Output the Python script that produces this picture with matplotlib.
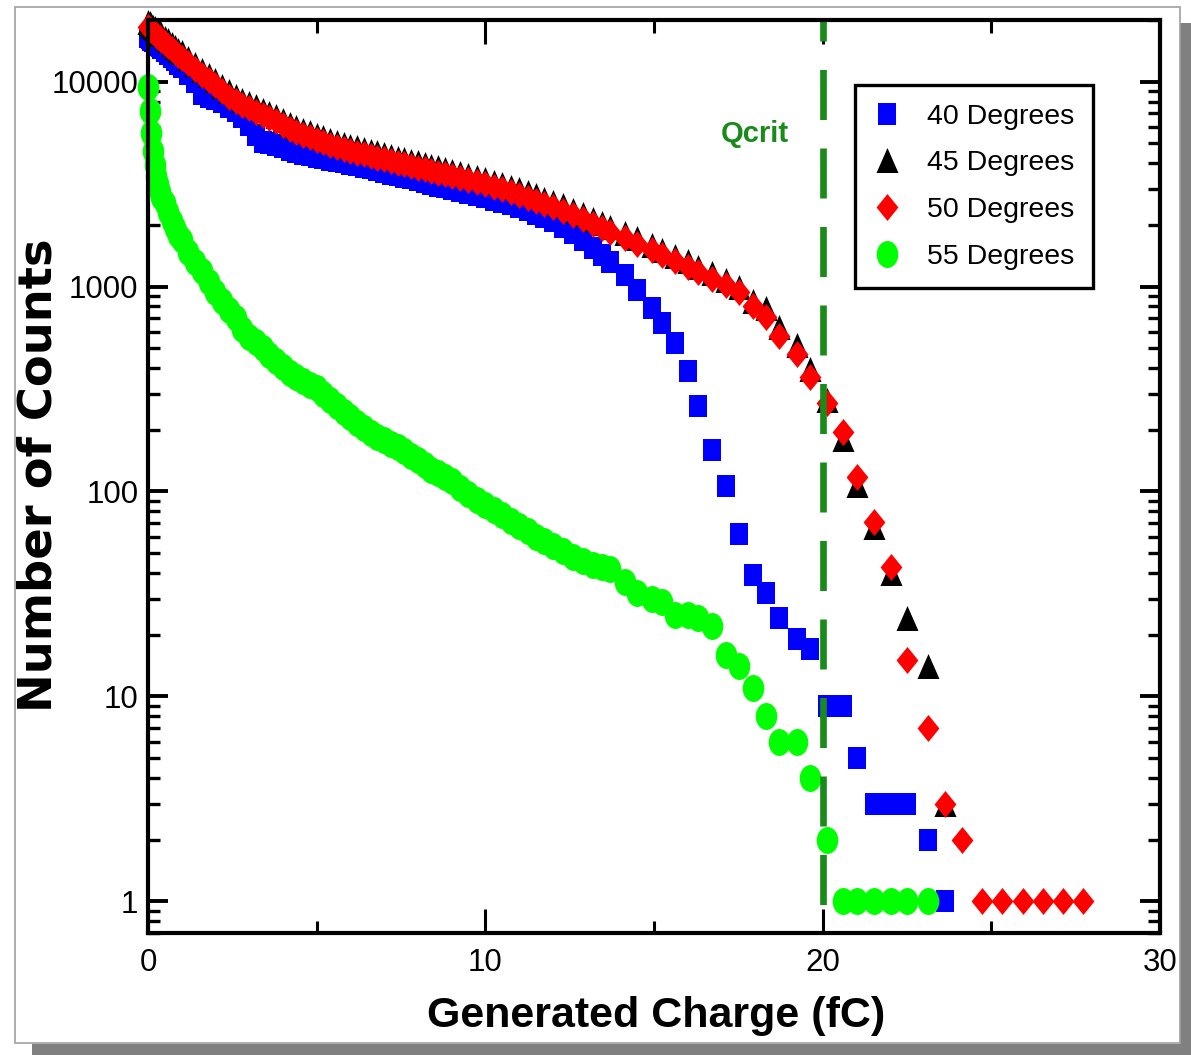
import numpy as np
import matplotlib
matplotlib.use("Agg")
import matplotlib.pyplot as plt
from matplotlib.path import Path
from matplotlib.transforms import Affine2D
from matplotlib.patches import Rectangle
from matplotlib.ticker import FixedLocator, MultipleLocator, LogLocator, NullFormatter, FuncFormatter

# ---- data (generated charge in fC, counts per bin) ----
charge = [0.0, 0.05, 0.1, 0.15, 0.2, 0.25, 0.3, 0.35, 0.4, 0.5,
          0.6, 0.7, 0.8, 0.9, 1.0, 1.2,
          1.4, 1.6, 1.8, 2.0, 2.2, 2.4, 2.6, 2.8, 3.0, 3.2,
          3.4, 3.6, 3.8, 4.0, 4.2, 4.4, 4.6, 4.8, 5.0, 5.2,
          5.4, 5.6, 5.8, 6.0, 6.2, 6.4, 6.6, 6.8, 7.0, 7.2,
          7.4, 7.6, 7.8, 8.0, 8.2, 8.4, 8.6, 8.8, 9.0, 9.25,
          9.5, 9.75, 10.0, 10.25, 10.5, 10.75, 11.0, 11.25, 11.5, 11.75,
          12.0, 12.3, 12.6, 12.9, 13.2, 13.45, 13.70, 14.14, 14.50, 14.94,
          15.24, 15.62, 16.01, 16.30, 16.72, 17.14, 17.52, 17.94, 18.32, 18.71,
          19.24, 19.63, 20.13, 20.60, 21.02, 21.52, 22.03, 22.50, 23.12, 23.63,
          24.13, 24.73, 25.32, 25.94, 26.53, 27.13, 27.72]

nan = np.nan

deg40 = [16500, 16250, 16000, 15800, 15600, 15350, 15100, 14850, 14600, 14100,
         13600, 13150, 12700, 12250, 11800, 10900,
         10000, 8700, 8400, 8200, 7950, 7500, 7200, 6700, 6150, 5500,
         5100, 5000, 4920, 4780, 4650, 4550, 4450, 4370, 4300, 4240,
         4170, 4100, 4040, 3980, 3920, 3850, 3790, 3720, 3640, 3560,
         3500, 3440, 3380, 3300, 3240, 3170, 3110, 3060, 3010, 2940,
         2870, 2800, 2730, 2660, 2590, 2520, 2440, 2360, 2270, 2180,
         2080, 1960, 1820, 1680, 1540, 1430, 1320, 1140, 960, 790,
         667, 530, 386, 260, 159, 106, 62, 39, 32, 24,
         19, 17, 9, 9, 5, 3, 3, 3, 2, 1,
         nan, nan, nan, nan, nan, nan, nan]

deg45 = [19600, 19250, 18900, 18550, 18200, 17900, 17600, 17300, 17000, 16400,
         15900, 15350, 14800, 14350, 13900, 13000,
         12200, 11400, 10800, 10200, 9540, 8960, 8530, 8160, 7840, 7580,
         7310, 7050, 6780, 6520, 6250, 6040, 5830, 5670, 5510, 5350,
         5220, 5090, 4980, 4880, 4780, 4690, 4600, 4520, 4430, 4350,
         4260, 4190, 4110, 4040, 3960, 3890, 3820, 3740, 3680, 3590,
         3510, 3420, 3340, 3250, 3170, 3070, 2980, 2880, 2790, 2690,
         2600, 2490, 2370, 2260, 2140, 2050, 1960, 1820, 1720, 1590,
         1510, 1410, 1330, 1250, 1160, 1080, 1000, 850, 785, 635,
         518, 396, 280, 180, 107, 67, 40, 24, 14, 3,
         nan, nan, nan, nan, nan, nan, nan]

deg50 = [18500, 18150, 17800, 17500, 17200, 16900, 16600, 16300, 16000, 15500,
         15000, 14500, 14000, 13550, 13100, 12300,
         11500, 10800, 10200, 9600, 9000, 8450, 8050, 7700, 7400, 7150,
         6900, 6650, 6400, 6150, 5900, 5700, 5500, 5350, 5200, 5050,
         4920, 4800, 4700, 4600, 4510, 4420, 4340, 4260, 4180, 4100,
         4020, 3950, 3880, 3810, 3740, 3670, 3600, 3530, 3470, 3390,
         3310, 3230, 3150, 3070, 2990, 2900, 2810, 2720, 2630, 2540,
         2450, 2350, 2240, 2130, 2020, 1930, 1850, 1720, 1620, 1500,
         1420, 1330, 1250, 1180, 1090, 1020, 940, 800, 714, 577,
         471, 360, 269, 196, 118, 71, 43, 15, 7, 3,
         2, 1, 1, 1, 1, 1, 1]

deg55 = [9400, 7200, 5600, 4600, 3900, 3450, 3150, 2900, 2750, 2550,
         2300, 2100, 1930, 1790, 1680, 1480,
         1320, 1190, 1050, 940, 850, 770, 700, 620, 570, 535,
         500, 465, 435, 405, 378, 360, 345, 332, 320, 300,
         280, 262, 245, 230, 216, 204, 193, 185, 178, 171,
         165, 157, 149, 142, 135, 128, 123, 117, 112, 104,
         97, 91, 86, 81, 77, 72, 68, 64, 60, 57,
         54, 51, 48, 46, 44, 43, 42, 36, 32, 30,
         29, 25, 25, 24, 22, 16, 14, 11, 8, 6,
         6, 4, 2, 1, 1, 1, 1, 1, 1, nan,
         nan, nan, nan, nan, nan, nan, nan]

labels = ["40 Degrees", "45 Degrees", "50 Degrees", "55 Degrees"]
qcrit = 20.0

# ---- figure ----
plt.rcParams['font.family'] = ['Liberation Sans', 'DejaVu Sans']

W, H = 1191, 1055
fig = plt.figure(figsize=(W / 100, H / 100), dpi=100)
fig.patch.set_facecolor('white')

# frame and drop shadow around the picture
fig.patches.append(Rectangle((1180 / W, 0), 11 / W, (H - 23) / H, transform=fig.transFigure,
                             facecolor='#808080', edgecolor='none', zorder=0))
fig.patches.append(Rectangle((32 / W, 0), (W - 32) / W, 11 / H, transform=fig.transFigure,
                             facecolor='#808080', edgecolor='none', zorder=0))
fig.patches.append(Rectangle((15 / W, 1 - 1043 / H), 1165 / W, 1036 / H, transform=fig.transFigure,
                             facecolor='none', edgecolor='#a0a0a0', linewidth=1.2, zorder=0))

ax = fig.add_axes([148 / W, 1 - 933 / H, (1160 - 148) / W, (933 - 20) / H])
ax.set_facecolor('white')

# marker shapes (slightly taller than wide, as in the picture)
square = Path([(-0.84, -1), (0.84, -1), (0.84, 1), (-0.84, 1), (0, 0)], closed=True)
triangle = Path([(0, 1), (-0.88, -1), (0.88, -1), (0, 0)], closed=True)
diamond = Path([(0, 1), (0.81, 0), (0, -1), (-0.81, 0), (0, 0)], closed=True)
ellipse = Path.unit_circle().transformed(Affine2D().scale(0.8, 1.0))

series = [
    (deg40, square, '#0000ff', 16.0),
    (deg45, triangle, '#000000', 18.0),
    (deg50, diamond, '#ff0000', 19.4),
    (deg55, ellipse, '#00ff00', 19.4),
]
for (vals, mk, col, ms), lab in zip(series, labels):
    ax.plot(charge, vals, linestyle='none', marker=mk, markersize=ms,
            markerfacecolor=col, markeredgecolor=col, markeredgewidth=0,
            clip_on=False, label=lab, zorder=3)

# critical charge line
lw = 4.8
ax.plot([qcrit, qcrit], [0.7, 20000], color='#1a8a1a', linewidth=lw,
        linestyle=(7.5, (7.5, 4.275)), zorder=4)
ax.text(18.0, 5100, "Qcrit", color='#1a8a1a', fontsize=21, fontweight='bold',
        ha='center', va='baseline')

ax.set_xlim(0, 30)
ax.set_yscale('log')
ax.set_ylim(0.7, 20000)

ax.xaxis.set_major_locator(FixedLocator([0, 10, 20, 30]))
ax.xaxis.set_minor_locator(MultipleLocator(5))
ax.yaxis.set_major_locator(FixedLocator([1, 10, 100, 1000, 10000]))
ax.yaxis.set_minor_locator(LogLocator(base=10, subs=np.arange(2, 10)))
ax.yaxis.set_major_formatter(FuncFormatter(lambda v, p: f"{int(round(v))}"))
ax.yaxis.set_minor_formatter(NullFormatter())

for s in ax.spines.values():
    s.set_linewidth(3)
    s.set_zorder(5)

ax.tick_params(which='both', direction='in', top=True, right=True, colors='black')
ax.tick_params(axis='x', which='major', length=17, width=2.2, pad=10.5, labelsize=22.5)
ax.tick_params(axis='x', which='minor', length=9, width=2.2)
ax.tick_params(axis='y', which='major', length=14.5, width=2.8, pad=7, labelsize=22.5)
ax.tick_params(axis='y', which='minor', length=8.5, width=2.4)

# axis titles
fig.text(656 / W, 1 - 1027 / H, "Generated Charge (fC)", fontsize=31, fontweight='bold',
         ha='center', va='baseline')
fig.text(39 / W, 1 - 475 / H, "Number of Counts", fontsize=33.4, fontweight='bold',
         family='DejaVu Sans', rotation=90, ha='center', va='center')

leg = ax.legend(loc='upper left', bbox_to_anchor=(0.6986, 0.9288), borderaxespad=0,
                frameon=True, fancybox=False, edgecolor='black', framealpha=1,
                prop=dict(size=20.5), handlelength=0.97, handletextpad=0.92,
                borderpad=0.65, labelspacing=0.73, numpoints=1)
leg.get_frame().set_linewidth(2.4)
leg.set_zorder(6)

fig.savefig("out.png", dpi=100)
